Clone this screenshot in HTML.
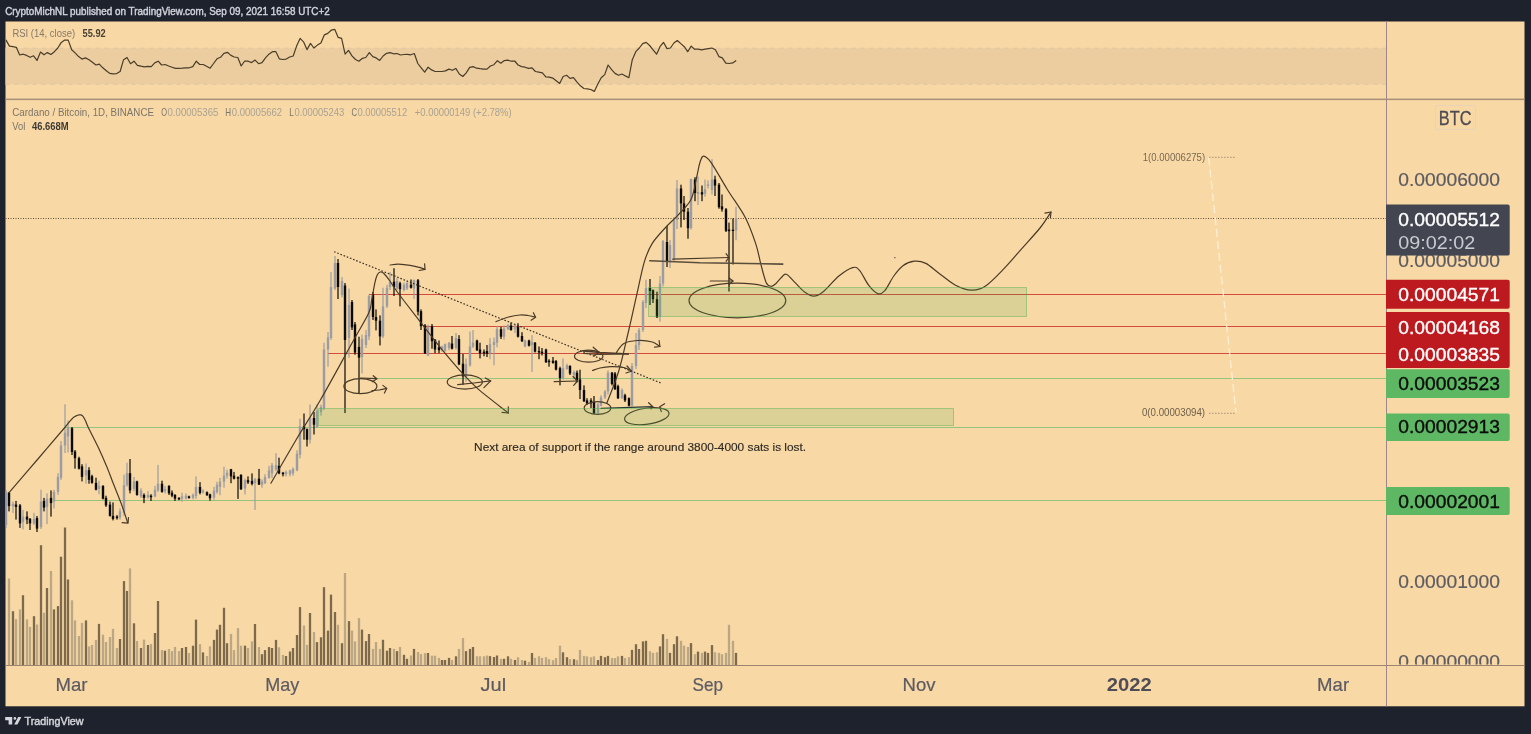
<!DOCTYPE html>
<html><head><meta charset="utf-8"><title>Cardano / Bitcoin chart</title>
<style>html,body{margin:0;padding:0;background:#1e222d;overflow:hidden}svg{display:block}</style>
</head><body><svg width="1531" height="734" viewBox="0 0 1531 734"><rect x="0" y="0" width="1531" height="734" fill="#1e222d"/><rect x="5.5" y="21.5" width="1519" height="684.8" fill="#f8d8a5"/><rect x="5.5" y="48.2" width="1380.5" height="36.1" fill="#ebcd9f"/><line x1="5.5" y1="48.2" x2="1386" y2="48.2" stroke="#dcc6a6" stroke-width="1" stroke-dasharray="4 5"/><line x1="5.5" y1="84.3" x2="1386" y2="84.3" stroke="#dcc6a6" stroke-width="1" stroke-dasharray="4 5"/><defs><clipPath id="mp"><rect x="5.5" y="99.5" width="1380.5" height="565.5"/></clipPath><clipPath id="rp"><rect x="5.5" y="21.5" width="1380.5" height="77.5"/></clipPath></defs><g clip-path="url(#mp)"><line x1="5.5" y1="218.5" x2="1386" y2="218.5" stroke="#5f4f38" stroke-width="1" stroke-dasharray="1 1.5"/><line x1="369" y1="294.5" x2="1386" y2="294.5" stroke="#d24b3c" stroke-width="1"/><line x1="425" y1="326.5" x2="1386" y2="326.5" stroke="#d24b3c" stroke-width="1"/><line x1="328" y1="353.5" x2="1386" y2="353.5" stroke="#d24b3c" stroke-width="1"/><line x1="359" y1="378.5" x2="1386" y2="378.5" stroke="#92c47c" stroke-width="1"/><line x1="64.5" y1="427.5" x2="1386" y2="427.5" stroke="#92c47c" stroke-width="1"/><line x1="54" y1="500.5" x2="1386" y2="500.5" stroke="#92c47c" stroke-width="1"/><rect x="7.85" y="578.5" width="2.3" height="86.5" fill="#bba784"/><rect x="11.85" y="611.2" width="2.3" height="53.8" fill="#7d6a4c"/><rect x="14.85" y="619.2" width="2.3" height="45.8" fill="#bba784"/><rect x="18.85" y="609.4" width="2.3" height="55.6" fill="#bba784"/><rect x="21.85" y="595.2" width="2.3" height="69.8" fill="#7d6a4c"/><rect x="25.85" y="619.4" width="2.3" height="45.6" fill="#bba784"/><rect x="28.85" y="626.9" width="2.3" height="38.1" fill="#bba784"/><rect x="32.85" y="616.2" width="2.3" height="48.8" fill="#7d6a4c"/><rect x="35.85" y="624.5" width="2.3" height="40.5" fill="#bba784"/><rect x="39.85" y="545.2" width="2.3" height="119.8" fill="#7d6a4c"/><rect x="42.85" y="612.8" width="2.3" height="52.2" fill="#bba784"/><rect x="45.85" y="588" width="2.3" height="77" fill="#7d6a4c"/><rect x="49.85" y="571" width="2.3" height="94" fill="#bba784"/><rect x="52.85" y="609.4" width="2.3" height="55.6" fill="#7d6a4c"/><rect x="56.85" y="606.1" width="2.3" height="58.9" fill="#7d6a4c"/><rect x="59.85" y="556.7" width="2.3" height="108.3" fill="#7d6a4c"/><rect x="63.85" y="527.5" width="2.3" height="137.5" fill="#7d6a4c"/><rect x="66.85" y="579.5" width="2.3" height="85.5" fill="#7d6a4c"/><rect x="70.85" y="600.3" width="2.3" height="64.7" fill="#bba784"/><rect x="73.85" y="620.4" width="2.3" height="44.6" fill="#bba784"/><rect x="77.85" y="636" width="2.3" height="29" fill="#bba784"/><rect x="80.85" y="622.9" width="2.3" height="42.1" fill="#bba784"/><rect x="84.85" y="620.4" width="2.3" height="44.6" fill="#7d6a4c"/><rect x="87.85" y="646.5" width="2.3" height="18.5" fill="#bba784"/><rect x="90.85" y="645" width="2.3" height="20" fill="#bba784"/><rect x="94.85" y="640" width="2.3" height="25" fill="#bba784"/><rect x="97.85" y="623.9" width="2.3" height="41.1" fill="#7d6a4c"/><rect x="101.85" y="634.6" width="2.3" height="30.4" fill="#bba784"/><rect x="104.85" y="642" width="2.3" height="23" fill="#bba784"/><rect x="108.85" y="637" width="2.3" height="28" fill="#bba784"/><rect x="111.85" y="628.9" width="2.3" height="36.1" fill="#bba784"/><rect x="115.85" y="648" width="2.3" height="17" fill="#bba784"/><rect x="118.85" y="639" width="2.3" height="26" fill="#7d6a4c"/><rect x="122.85" y="581.1" width="2.3" height="83.9" fill="#7d6a4c"/><rect x="125.85" y="591" width="2.3" height="74" fill="#7d6a4c"/><rect x="128.85" y="568.4" width="2.3" height="96.6" fill="#bba784"/><rect x="132.85" y="623.3" width="2.3" height="41.7" fill="#7d6a4c"/><rect x="135.85" y="641" width="2.3" height="24" fill="#bba784"/><rect x="139.85" y="648" width="2.3" height="17" fill="#7d6a4c"/><rect x="142.85" y="639.6" width="2.3" height="25.4" fill="#bba784"/><rect x="146.85" y="645" width="2.3" height="20" fill="#7d6a4c"/><rect x="149.85" y="644" width="2.3" height="21" fill="#bba784"/><rect x="153.85" y="633" width="2.3" height="32" fill="#7d6a4c"/><rect x="156.85" y="601" width="2.3" height="64" fill="#7d6a4c"/><rect x="160.85" y="650" width="2.3" height="15" fill="#bba784"/><rect x="163.85" y="650.7" width="2.3" height="14.3" fill="#7d6a4c"/><rect x="167.85" y="649" width="2.3" height="16" fill="#bba784"/><rect x="170.85" y="651.1" width="2.3" height="13.9" fill="#bba784"/><rect x="173.85" y="647" width="2.3" height="18" fill="#bba784"/><rect x="177.85" y="651.1" width="2.3" height="13.9" fill="#bba784"/><rect x="180.85" y="648" width="2.3" height="17" fill="#7d6a4c"/><rect x="184.85" y="647" width="2.3" height="18" fill="#7d6a4c"/><rect x="187.85" y="653" width="2.3" height="12" fill="#bba784"/><rect x="191.85" y="645.7" width="2.3" height="19.3" fill="#7d6a4c"/><rect x="194.85" y="619.6" width="2.3" height="45.4" fill="#7d6a4c"/><rect x="198.85" y="644.2" width="2.3" height="20.8" fill="#bba784"/><rect x="201.85" y="652.4" width="2.3" height="12.6" fill="#7d6a4c"/><rect x="205.85" y="656" width="2.3" height="9" fill="#bba784"/><rect x="208.85" y="646.4" width="2.3" height="18.6" fill="#bba784"/><rect x="212.85" y="639.9" width="2.3" height="25.1" fill="#7d6a4c"/><rect x="215.85" y="629.6" width="2.3" height="35.4" fill="#7d6a4c"/><rect x="218.85" y="624.8" width="2.3" height="40.2" fill="#7d6a4c"/><rect x="222.85" y="607.8" width="2.3" height="57.2" fill="#7d6a4c"/><rect x="225.85" y="643.2" width="2.3" height="21.8" fill="#7d6a4c"/><rect x="229.85" y="633.9" width="2.3" height="31.1" fill="#bba784"/><rect x="232.85" y="650.1" width="2.3" height="14.9" fill="#bba784"/><rect x="236.85" y="628.1" width="2.3" height="36.9" fill="#bba784"/><rect x="239.85" y="645.7" width="2.3" height="19.3" fill="#bba784"/><rect x="243.85" y="645.7" width="2.3" height="19.3" fill="#7d6a4c"/><rect x="246.85" y="648" width="2.3" height="17" fill="#bba784"/><rect x="250.85" y="641.4" width="2.3" height="23.6" fill="#bba784"/><rect x="253.85" y="624" width="2.3" height="41" fill="#7d6a4c"/><rect x="257.85" y="647.1" width="2.3" height="17.9" fill="#bba784"/><rect x="260.85" y="654.2" width="2.3" height="10.8" fill="#7d6a4c"/><rect x="263.85" y="650.1" width="2.3" height="14.9" fill="#7d6a4c"/><rect x="267.85" y="647.1" width="2.3" height="17.9" fill="#7d6a4c"/><rect x="270.85" y="648" width="2.3" height="17" fill="#7d6a4c"/><rect x="274.85" y="639.9" width="2.3" height="25.1" fill="#7d6a4c"/><rect x="277.85" y="647.3" width="2.3" height="17.7" fill="#bba784"/><rect x="281.85" y="654.9" width="2.3" height="10.1" fill="#bba784"/><rect x="284.85" y="656" width="2.3" height="9" fill="#7d6a4c"/><rect x="288.85" y="651.5" width="2.3" height="13.5" fill="#7d6a4c"/><rect x="291.85" y="648" width="2.3" height="17" fill="#7d6a4c"/><rect x="295.85" y="635" width="2.3" height="30" fill="#7d6a4c"/><rect x="298.85" y="607.1" width="2.3" height="57.9" fill="#7d6a4c"/><rect x="302.85" y="625.5" width="2.3" height="39.5" fill="#bba784"/><rect x="305.85" y="644.9" width="2.3" height="20.1" fill="#bba784"/><rect x="308.85" y="613" width="2.3" height="52" fill="#7d6a4c"/><rect x="312.85" y="632.1" width="2.3" height="32.9" fill="#bba784"/><rect x="315.85" y="642.1" width="2.3" height="22.9" fill="#7d6a4c"/><rect x="319.85" y="637.3" width="2.3" height="27.7" fill="#7d6a4c"/><rect x="322.85" y="587.2" width="2.3" height="77.8" fill="#7d6a4c"/><rect x="326.85" y="630.6" width="2.3" height="34.4" fill="#7d6a4c"/><rect x="329.85" y="594.6" width="2.3" height="70.4" fill="#7d6a4c"/><rect x="333.85" y="612" width="2.3" height="53" fill="#7d6a4c"/><rect x="336.85" y="624.8" width="2.3" height="40.2" fill="#bba784"/><rect x="340.85" y="643.2" width="2.3" height="21.8" fill="#7d6a4c"/><rect x="343.85" y="573" width="2.3" height="92" fill="#bba784"/><rect x="347.85" y="621.1" width="2.3" height="43.9" fill="#7d6a4c"/><rect x="350.85" y="630.6" width="2.3" height="34.4" fill="#bba784"/><rect x="353.85" y="641.4" width="2.3" height="23.6" fill="#bba784"/><rect x="357.85" y="618.1" width="2.3" height="46.9" fill="#bba784"/><rect x="360.85" y="629.6" width="2.3" height="35.4" fill="#7d6a4c"/><rect x="364.85" y="641.1" width="2.3" height="23.9" fill="#7d6a4c"/><rect x="367.85" y="634" width="2.3" height="31" fill="#7d6a4c"/><rect x="371.85" y="648.9" width="2.3" height="16.1" fill="#bba784"/><rect x="374.85" y="642" width="2.3" height="23" fill="#bba784"/><rect x="378.85" y="648.9" width="2.3" height="16.1" fill="#bba784"/><rect x="381.85" y="639.8" width="2.3" height="25.2" fill="#7d6a4c"/><rect x="385.85" y="650.7" width="2.3" height="14.3" fill="#7d6a4c"/><rect x="388.85" y="648" width="2.3" height="17" fill="#7d6a4c"/><rect x="392.85" y="648.9" width="2.3" height="16.1" fill="#bba784"/><rect x="395.85" y="651.1" width="2.3" height="13.9" fill="#7d6a4c"/><rect x="398.85" y="647" width="2.3" height="18" fill="#bba784"/><rect x="402.85" y="654.8" width="2.3" height="10.2" fill="#7d6a4c"/><rect x="405.85" y="658.8" width="2.3" height="6.2" fill="#7d6a4c"/><rect x="409.85" y="655.5" width="2.3" height="9.5" fill="#bba784"/><rect x="412.85" y="648.9" width="2.3" height="16.1" fill="#7d6a4c"/><rect x="416.85" y="652" width="2.3" height="13" fill="#bba784"/><rect x="419.85" y="654.1" width="2.3" height="10.9" fill="#bba784"/><rect x="423.85" y="653.2" width="2.3" height="11.8" fill="#bba784"/><rect x="426.85" y="653" width="2.3" height="12" fill="#7d6a4c"/><rect x="430.85" y="655.7" width="2.3" height="9.3" fill="#bba784"/><rect x="433.85" y="655.7" width="2.3" height="9.3" fill="#bba784"/><rect x="437.85" y="657.9" width="2.3" height="7.1" fill="#bba784"/><rect x="440.85" y="660" width="2.3" height="5" fill="#7d6a4c"/><rect x="443.85" y="660" width="2.3" height="5" fill="#7d6a4c"/><rect x="447.85" y="657.9" width="2.3" height="7.1" fill="#7d6a4c"/><rect x="450.85" y="660" width="2.3" height="5" fill="#bba784"/><rect x="454.85" y="656.3" width="2.3" height="8.7" fill="#7d6a4c"/><rect x="457.85" y="648.9" width="2.3" height="16.1" fill="#bba784"/><rect x="461.85" y="638.1" width="2.3" height="26.9" fill="#bba784"/><rect x="464.85" y="651.1" width="2.3" height="13.9" fill="#7d6a4c"/><rect x="468.85" y="648.9" width="2.3" height="16.1" fill="#7d6a4c"/><rect x="471.85" y="647" width="2.3" height="18" fill="#7d6a4c"/><rect x="475.85" y="656.3" width="2.3" height="8.7" fill="#bba784"/><rect x="478.85" y="656.3" width="2.3" height="8.7" fill="#bba784"/><rect x="482.85" y="656.3" width="2.3" height="8.7" fill="#bba784"/><rect x="485.85" y="655.5" width="2.3" height="9.5" fill="#bba784"/><rect x="488.85" y="656.1" width="2.3" height="8.9" fill="#7d6a4c"/><rect x="492.85" y="657" width="2.3" height="8" fill="#7d6a4c"/><rect x="495.85" y="655.5" width="2.3" height="9.5" fill="#7d6a4c"/><rect x="499.85" y="658.8" width="2.3" height="6.2" fill="#bba784"/><rect x="502.85" y="658.8" width="2.3" height="6.2" fill="#7d6a4c"/><rect x="506.85" y="656.3" width="2.3" height="8.7" fill="#7d6a4c"/><rect x="509.85" y="658.8" width="2.3" height="6.2" fill="#bba784"/><rect x="513.85" y="660" width="2.3" height="5" fill="#7d6a4c"/><rect x="516.85" y="657.2" width="2.3" height="7.8" fill="#bba784"/><rect x="520.85" y="660" width="2.3" height="5" fill="#bba784"/><rect x="523.85" y="660.7" width="2.3" height="4.3" fill="#7d6a4c"/><rect x="527.85" y="661.9" width="2.3" height="3.1" fill="#bba784"/><rect x="530.85" y="653" width="2.3" height="12" fill="#7d6a4c"/><rect x="533.85" y="657.9" width="2.3" height="7.1" fill="#bba784"/><rect x="537.85" y="656.3" width="2.3" height="8.7" fill="#bba784"/><rect x="540.85" y="657.9" width="2.3" height="7.1" fill="#bba784"/><rect x="544.85" y="657.2" width="2.3" height="7.8" fill="#bba784"/><rect x="547.85" y="659.2" width="2.3" height="5.8" fill="#bba784"/><rect x="551.85" y="660.1" width="2.3" height="4.9" fill="#bba784"/><rect x="554.85" y="658.1" width="2.3" height="6.9" fill="#bba784"/><rect x="558.85" y="645.7" width="2.3" height="19.3" fill="#bba784"/><rect x="561.85" y="652.3" width="2.3" height="12.7" fill="#7d6a4c"/><rect x="565.85" y="657.2" width="2.3" height="7.8" fill="#7d6a4c"/><rect x="568.85" y="659.2" width="2.3" height="5.8" fill="#bba784"/><rect x="572.85" y="659.2" width="2.3" height="5.8" fill="#7d6a4c"/><rect x="575.85" y="660.1" width="2.3" height="4.9" fill="#bba784"/><rect x="578.85" y="649.9" width="2.3" height="15.1" fill="#bba784"/><rect x="582.85" y="655.9" width="2.3" height="9.1" fill="#bba784"/><rect x="585.85" y="656.4" width="2.3" height="8.6" fill="#bba784"/><rect x="589.85" y="657.2" width="2.3" height="7.8" fill="#bba784"/><rect x="592.85" y="656.4" width="2.3" height="8.6" fill="#bba784"/><rect x="596.85" y="660.1" width="2.3" height="4.9" fill="#7d6a4c"/><rect x="599.85" y="655.9" width="2.3" height="9.1" fill="#7d6a4c"/><rect x="603.85" y="657.2" width="2.3" height="7.8" fill="#7d6a4c"/><rect x="606.85" y="655.9" width="2.3" height="9.1" fill="#7d6a4c"/><rect x="610.85" y="658.1" width="2.3" height="6.9" fill="#bba784"/><rect x="613.85" y="658.1" width="2.3" height="6.9" fill="#bba784"/><rect x="616.85" y="656.4" width="2.3" height="8.6" fill="#bba784"/><rect x="620.85" y="655.9" width="2.3" height="9.1" fill="#7d6a4c"/><rect x="623.85" y="658.1" width="2.3" height="6.9" fill="#bba784"/><rect x="627.85" y="657.2" width="2.3" height="7.8" fill="#bba784"/><rect x="630.85" y="649.9" width="2.3" height="15.1" fill="#7d6a4c"/><rect x="634.85" y="644.2" width="2.3" height="20.8" fill="#7d6a4c"/><rect x="637.85" y="649" width="2.3" height="16" fill="#7d6a4c"/><rect x="641.85" y="641.4" width="2.3" height="23.6" fill="#7d6a4c"/><rect x="644.85" y="640.8" width="2.3" height="24.2" fill="#7d6a4c"/><rect x="648.85" y="651.3" width="2.3" height="13.7" fill="#bba784"/><rect x="651.85" y="652.9" width="2.3" height="12.1" fill="#bba784"/><rect x="655.85" y="652.3" width="2.3" height="12.7" fill="#bba784"/><rect x="658.85" y="646.4" width="2.3" height="18.6" fill="#7d6a4c"/><rect x="661.85" y="634.2" width="2.3" height="30.8" fill="#7d6a4c"/><rect x="665.85" y="638.9" width="2.3" height="26.1" fill="#bba784"/><rect x="668.85" y="652.9" width="2.3" height="12.1" fill="#7d6a4c"/><rect x="672.85" y="644.2" width="2.3" height="20.8" fill="#7d6a4c"/><rect x="675.85" y="636.3" width="2.3" height="28.7" fill="#7d6a4c"/><rect x="679.85" y="640.8" width="2.3" height="24.2" fill="#bba784"/><rect x="682.85" y="645.7" width="2.3" height="19.3" fill="#bba784"/><rect x="686.85" y="647" width="2.3" height="18" fill="#bba784"/><rect x="689.85" y="643.1" width="2.3" height="21.9" fill="#7d6a4c"/><rect x="693.85" y="654.2" width="2.3" height="10.8" fill="#bba784"/><rect x="696.85" y="651.6" width="2.3" height="13.4" fill="#7d6a4c"/><rect x="700.85" y="652.9" width="2.3" height="12.1" fill="#bba784"/><rect x="703.85" y="651.6" width="2.3" height="13.4" fill="#7d6a4c"/><rect x="706.85" y="652.9" width="2.3" height="12.1" fill="#7d6a4c"/><rect x="710.85" y="645.1" width="2.3" height="19.9" fill="#7d6a4c"/><rect x="713.85" y="652.3" width="2.3" height="12.7" fill="#bba784"/><rect x="717.85" y="652.9" width="2.3" height="12.1" fill="#bba784"/><rect x="720.85" y="654.2" width="2.3" height="10.8" fill="#bba784"/><rect x="724.85" y="652.9" width="2.3" height="12.1" fill="#bba784"/><rect x="727.85" y="624.8" width="2.3" height="40.2" fill="#bba784"/><rect x="731.85" y="640.8" width="2.3" height="24.2" fill="#bba784"/><rect x="734.85" y="652.9" width="2.3" height="12.1" fill="#7d6a4c"/><rect x="5.4" y="490" width="1.2" height="38" fill="#9c9ca3"/><rect x="4.8" y="492" width="2.4" height="33" fill="#9c9ca3"/><rect x="8.4" y="491.9" width="1.2" height="19.5" fill="#0a0a0a"/><rect x="7.8" y="492.7" width="2.4" height="13.4" fill="#0a0a0a"/><rect x="12.4" y="501.6" width="1.2" height="11.3" fill="#9c9ca3"/><rect x="11.8" y="503.9" width="2.4" height="2.2" fill="#9c9ca3"/><rect x="15.4" y="500.9" width="1.2" height="18.7" fill="#0a0a0a"/><rect x="14.8" y="504.6" width="2.4" height="2.3" fill="#0a0a0a"/><rect x="19.4" y="504" width="1.2" height="23.9" fill="#0a0a0a"/><rect x="18.8" y="505.4" width="2.4" height="18" fill="#0a0a0a"/><rect x="22.4" y="509.9" width="1.2" height="19.5" fill="#9c9ca3"/><rect x="21.8" y="516.6" width="2.4" height="5.3" fill="#9c9ca3"/><rect x="26.4" y="511.4" width="1.2" height="12.7" fill="#0a0a0a"/><rect x="25.8" y="516.6" width="2.4" height="3" fill="#0a0a0a"/><rect x="29.4" y="518" width="1.2" height="12" fill="#0a0a0a"/><rect x="28.8" y="518.9" width="2.4" height="4.5" fill="#0a0a0a"/><rect x="33.4" y="512.9" width="1.2" height="12" fill="#9c9ca3"/><rect x="32.8" y="518.9" width="2.4" height="4.5" fill="#9c9ca3"/><rect x="36.4" y="516" width="1.2" height="16" fill="#0a0a0a"/><rect x="35.8" y="518.1" width="2.4" height="10.5" fill="#0a0a0a"/><rect x="40.4" y="489.7" width="1.2" height="39.3" fill="#9c9ca3"/><rect x="39.8" y="501.6" width="2.4" height="25.5" fill="#9c9ca3"/><rect x="43.4" y="497.9" width="1.2" height="13.5" fill="#0a0a0a"/><rect x="42.8" y="500.9" width="2.4" height="6.7" fill="#0a0a0a"/><rect x="46.4" y="493.4" width="1.2" height="30.7" fill="#9c9ca3"/><rect x="45.8" y="498.7" width="2.4" height="8.2" fill="#9c9ca3"/><rect x="50.4" y="490.4" width="1.2" height="26.2" fill="#0a0a0a"/><rect x="49.8" y="497.9" width="2.4" height="5.2" fill="#0a0a0a"/><rect x="53.4" y="489.7" width="1.2" height="18.7" fill="#9c9ca3"/><rect x="52.8" y="491.9" width="2.4" height="9.7" fill="#9c9ca3"/><rect x="57.4" y="473.2" width="1.2" height="21.7" fill="#9c9ca3"/><rect x="56.8" y="476.9" width="2.4" height="15" fill="#9c9ca3"/><rect x="60.4" y="441" width="1.2" height="39" fill="#9c9ca3"/><rect x="59.8" y="445.5" width="2.4" height="32.2" fill="#9c9ca3"/><rect x="64.4" y="404.3" width="1.2" height="48.7" fill="#9c9ca3"/><rect x="63.8" y="432.7" width="2.4" height="12.8" fill="#9c9ca3"/><rect x="67.4" y="420.5" width="1.2" height="32" fill="#9c9ca3"/><rect x="66.8" y="427.5" width="2.4" height="9" fill="#9c9ca3"/><rect x="71.4" y="427" width="1.2" height="28" fill="#0a0a0a"/><rect x="70.8" y="428.2" width="2.4" height="23.8" fill="#0a0a0a"/><rect x="74.4" y="450" width="1.2" height="18.7" fill="#0a0a0a"/><rect x="73.8" y="451.5" width="2.4" height="6.7" fill="#0a0a0a"/><rect x="78.4" y="456.7" width="1.2" height="12.8" fill="#0a0a0a"/><rect x="77.8" y="458.2" width="2.4" height="10.5" fill="#0a0a0a"/><rect x="81.4" y="464.2" width="1.2" height="17.2" fill="#0a0a0a"/><rect x="80.8" y="466.4" width="2.4" height="10.5" fill="#0a0a0a"/><rect x="85.4" y="463.4" width="1.2" height="20.3" fill="#9c9ca3"/><rect x="84.8" y="470.2" width="2.4" height="5.2" fill="#9c9ca3"/><rect x="88.4" y="467.2" width="1.2" height="16.5" fill="#0a0a0a"/><rect x="87.8" y="470.2" width="2.4" height="9.7" fill="#0a0a0a"/><rect x="91.4" y="474.7" width="1.2" height="9" fill="#0a0a0a"/><rect x="90.8" y="476.2" width="2.4" height="6.7" fill="#0a0a0a"/><rect x="95.4" y="477.7" width="1.2" height="12.7" fill="#0a0a0a"/><rect x="94.8" y="482.9" width="2.4" height="6.8" fill="#0a0a0a"/><rect x="98.4" y="480.7" width="1.2" height="13.5" fill="#9c9ca3"/><rect x="97.8" y="485.9" width="2.4" height="3" fill="#9c9ca3"/><rect x="102.4" y="485.2" width="1.2" height="14.2" fill="#0a0a0a"/><rect x="101.8" y="485.9" width="2.4" height="12.8" fill="#0a0a0a"/><rect x="105.4" y="495.7" width="1.2" height="11.2" fill="#0a0a0a"/><rect x="104.8" y="497.9" width="2.4" height="7.5" fill="#0a0a0a"/><rect x="109.4" y="501.6" width="1.2" height="15" fill="#0a0a0a"/><rect x="108.8" y="504.6" width="2.4" height="11.3" fill="#0a0a0a"/><rect x="112.4" y="502.4" width="1.2" height="18" fill="#0a0a0a"/><rect x="111.8" y="515.9" width="2.4" height="3" fill="#0a0a0a"/><rect x="116.4" y="515.1" width="1.2" height="4.5" fill="#0a0a0a"/><rect x="115.8" y="516.6" width="2.4" height="1.5" fill="#0a0a0a"/><rect x="119.4" y="508.4" width="1.2" height="11.2" fill="#9c9ca3"/><rect x="118.8" y="511.4" width="2.4" height="6" fill="#9c9ca3"/><rect x="123.4" y="474.7" width="1.2" height="41.2" fill="#9c9ca3"/><rect x="122.8" y="485.2" width="2.4" height="27.7" fill="#9c9ca3"/><rect x="126.4" y="462.7" width="1.2" height="24" fill="#9c9ca3"/><rect x="125.8" y="473.2" width="2.4" height="12" fill="#9c9ca3"/><rect x="129.4" y="459" width="1.2" height="34.4" fill="#0a0a0a"/><rect x="128.8" y="473.2" width="2.4" height="17.2" fill="#0a0a0a"/><rect x="133.4" y="476.9" width="1.2" height="14.3" fill="#9c9ca3"/><rect x="132.8" y="481.4" width="2.4" height="7.5" fill="#9c9ca3"/><rect x="136.4" y="480.7" width="1.2" height="15" fill="#0a0a0a"/><rect x="135.8" y="481.4" width="2.4" height="13.5" fill="#0a0a0a"/><rect x="140.4" y="488.2" width="1.2" height="9.7" fill="#9c9ca3"/><rect x="139.8" y="490.4" width="2.4" height="6" fill="#9c9ca3"/><rect x="143.4" y="493.4" width="1.2" height="9.7" fill="#0a0a0a"/><rect x="142.8" y="494.9" width="2.4" height="3" fill="#0a0a0a"/><rect x="147.4" y="491.2" width="1.2" height="7.5" fill="#9c9ca3"/><rect x="146.8" y="494.9" width="2.4" height="2.3" fill="#9c9ca3"/><rect x="150.4" y="494.2" width="1.2" height="6.7" fill="#0a0a0a"/><rect x="149.8" y="495.7" width="2.4" height="1.5" fill="#0a0a0a"/><rect x="154.4" y="485.9" width="1.2" height="11.3" fill="#9c9ca3"/><rect x="153.8" y="489.7" width="2.4" height="6.7" fill="#9c9ca3"/><rect x="157.4" y="464.9" width="1.2" height="27" fill="#9c9ca3"/><rect x="156.8" y="483.7" width="2.4" height="6.7" fill="#9c9ca3"/><rect x="161.4" y="480.7" width="1.2" height="12" fill="#0a0a0a"/><rect x="160.8" y="483.7" width="2.4" height="8.2" fill="#0a0a0a"/><rect x="164.4" y="485.9" width="1.2" height="7.5" fill="#9c9ca3"/><rect x="163.8" y="489" width="2.4" height="2.2" fill="#9c9ca3"/><rect x="168.4" y="485.2" width="1.2" height="9.7" fill="#0a0a0a"/><rect x="167.8" y="485.9" width="2.4" height="7.5" fill="#0a0a0a"/><rect x="171.4" y="490.4" width="1.2" height="6.8" fill="#0a0a0a"/><rect x="170.8" y="492.7" width="2.4" height="3" fill="#0a0a0a"/><rect x="174.4" y="494.2" width="1.2" height="6.7" fill="#0a0a0a"/><rect x="173.8" y="494.9" width="2.4" height="3.8" fill="#0a0a0a"/><rect x="178.4" y="497.2" width="1.2" height="3" fill="#0a0a0a"/><rect x="177.8" y="497.9" width="2.4" height="1.5" fill="#0a0a0a"/><rect x="181.4" y="492.7" width="1.2" height="8.9" fill="#9c9ca3"/><rect x="180.8" y="496.4" width="2.4" height="2.3" fill="#9c9ca3"/><rect x="185.4" y="493.4" width="1.2" height="6" fill="#9c9ca3"/><rect x="184.8" y="495.7" width="2.4" height="3" fill="#9c9ca3"/><rect x="188.4" y="495.7" width="1.2" height="3" fill="#0a0a0a"/><rect x="187.8" y="496.4" width="2.4" height="1.5" fill="#0a0a0a"/><rect x="192.4" y="493.4" width="1.2" height="6" fill="#9c9ca3"/><rect x="191.8" y="494.9" width="2.4" height="3" fill="#9c9ca3"/><rect x="195.4" y="476.4" width="1.2" height="22.5" fill="#9c9ca3"/><rect x="194.8" y="486.9" width="2.4" height="9" fill="#9c9ca3"/><rect x="199.4" y="482.1" width="1.2" height="12.3" fill="#0a0a0a"/><rect x="198.8" y="486.9" width="2.4" height="6" fill="#0a0a0a"/><rect x="202.4" y="489.2" width="1.2" height="4.5" fill="#9c9ca3"/><rect x="201.8" y="490.7" width="2.4" height="1.5" fill="#9c9ca3"/><rect x="206.4" y="491.4" width="1.2" height="4.5" fill="#0a0a0a"/><rect x="205.8" y="492.2" width="2.4" height="3" fill="#0a0a0a"/><rect x="209.4" y="493.7" width="1.2" height="7" fill="#0a0a0a"/><rect x="208.8" y="494.4" width="2.4" height="3.8" fill="#0a0a0a"/><rect x="213.4" y="486.9" width="1.2" height="12.8" fill="#9c9ca3"/><rect x="212.8" y="490.7" width="2.4" height="6.7" fill="#9c9ca3"/><rect x="216.4" y="481.7" width="1.2" height="12" fill="#9c9ca3"/><rect x="215.8" y="484.7" width="2.4" height="7.5" fill="#9c9ca3"/><rect x="219.4" y="477.9" width="1.2" height="17.3" fill="#9c9ca3"/><rect x="218.8" y="481.7" width="2.4" height="5.2" fill="#9c9ca3"/><rect x="223.4" y="466.7" width="1.2" height="21" fill="#9c9ca3"/><rect x="222.8" y="475.7" width="2.4" height="6" fill="#9c9ca3"/><rect x="226.4" y="469.7" width="1.2" height="9" fill="#9c9ca3"/><rect x="225.8" y="472.7" width="2.4" height="3" fill="#9c9ca3"/><rect x="230.4" y="468.9" width="1.2" height="14.3" fill="#0a0a0a"/><rect x="229.8" y="469.2" width="2.4" height="7.2" fill="#0a0a0a"/><rect x="233.4" y="471.9" width="1.2" height="7.5" fill="#0a0a0a"/><rect x="232.8" y="475.7" width="2.4" height="3" fill="#0a0a0a"/><rect x="237.4" y="476.4" width="1.2" height="22.5" fill="#0a0a0a"/><rect x="236.8" y="477.2" width="2.4" height="1.5" fill="#0a0a0a"/><rect x="240.4" y="474.2" width="1.2" height="15.8" fill="#0a0a0a"/><rect x="239.8" y="474.9" width="2.4" height="14.3" fill="#0a0a0a"/><rect x="244.4" y="478.7" width="1.2" height="15.7" fill="#9c9ca3"/><rect x="243.8" y="480.2" width="2.4" height="8.2" fill="#9c9ca3"/><rect x="247.4" y="476.4" width="1.2" height="7.5" fill="#0a0a0a"/><rect x="246.8" y="480.2" width="2.4" height="2.2" fill="#0a0a0a"/><rect x="251.4" y="473.4" width="1.2" height="12" fill="#0a0a0a"/><rect x="250.8" y="480.9" width="2.4" height="3" fill="#0a0a0a"/><rect x="254.4" y="478" width="1.2" height="32" fill="#9c9ca3"/><rect x="253.8" y="479.4" width="2.4" height="3.8" fill="#9c9ca3"/><rect x="258.4" y="468.9" width="1.2" height="15.8" fill="#0a0a0a"/><rect x="257.8" y="478.7" width="2.4" height="6" fill="#0a0a0a"/><rect x="261.4" y="479.4" width="1.2" height="8.3" fill="#9c9ca3"/><rect x="260.8" y="481.7" width="2.4" height="3" fill="#9c9ca3"/><rect x="264.4" y="474.2" width="1.2" height="9.8" fill="#9c9ca3"/><rect x="263.8" y="477.2" width="2.4" height="6" fill="#9c9ca3"/><rect x="268.4" y="465.9" width="1.2" height="12.8" fill="#9c9ca3"/><rect x="267.8" y="470.4" width="2.4" height="7.5" fill="#9c9ca3"/><rect x="271.4" y="462.9" width="1.2" height="15" fill="#9c9ca3"/><rect x="270.8" y="465.2" width="2.4" height="8.2" fill="#9c9ca3"/><rect x="275.4" y="453.2" width="1.2" height="18" fill="#9c9ca3"/><rect x="274.8" y="465.2" width="2.4" height="4.5" fill="#9c9ca3"/><rect x="278.4" y="457.7" width="1.2" height="16.5" fill="#0a0a0a"/><rect x="277.8" y="465.9" width="2.4" height="7.5" fill="#0a0a0a"/><rect x="282.4" y="471.9" width="1.2" height="4.5" fill="#0a0a0a"/><rect x="281.8" y="472.7" width="2.4" height="1.5" fill="#0a0a0a"/><rect x="285.4" y="470.4" width="1.2" height="6" fill="#9c9ca3"/><rect x="284.8" y="471.9" width="2.4" height="2.3" fill="#9c9ca3"/><rect x="289.4" y="469.7" width="1.2" height="6.7" fill="#9c9ca3"/><rect x="288.8" y="470.4" width="2.4" height="3.8" fill="#9c9ca3"/><rect x="292.4" y="467.4" width="1.2" height="8.3" fill="#9c9ca3"/><rect x="291.8" y="468.9" width="2.4" height="4.5" fill="#9c9ca3"/><rect x="296.4" y="450.2" width="1.2" height="21" fill="#9c9ca3"/><rect x="295.8" y="453.9" width="2.4" height="16.5" fill="#9c9ca3"/><rect x="299.4" y="418.7" width="1.2" height="39.7" fill="#9c9ca3"/><rect x="298.8" y="426.2" width="2.4" height="28.5" fill="#9c9ca3"/><rect x="303.4" y="413.5" width="1.2" height="26.2" fill="#0a0a0a"/><rect x="302.8" y="426.2" width="2.4" height="3" fill="#0a0a0a"/><rect x="306.4" y="428.5" width="1.2" height="18" fill="#0a0a0a"/><rect x="305.8" y="429.2" width="2.4" height="10.5" fill="#0a0a0a"/><rect x="309.4" y="404.5" width="1.2" height="39" fill="#9c9ca3"/><rect x="308.8" y="418" width="2.4" height="21.7" fill="#9c9ca3"/><rect x="313.4" y="412" width="1.2" height="22.5" fill="#0a0a0a"/><rect x="312.8" y="418" width="2.4" height="6.7" fill="#0a0a0a"/><rect x="316.4" y="404.5" width="1.2" height="23.5" fill="#9c9ca3"/><rect x="315.8" y="410.5" width="2.4" height="16.5" fill="#9c9ca3"/><rect x="320.4" y="404.5" width="1.2" height="11.2" fill="#9c9ca3"/><rect x="319.8" y="406.7" width="2.4" height="5.3" fill="#9c9ca3"/><rect x="323.4" y="342.7" width="1.2" height="67.3" fill="#9c9ca3"/><rect x="322.8" y="349.5" width="2.4" height="58.5" fill="#9c9ca3"/><rect x="327.4" y="332" width="1.2" height="34.7" fill="#9c9ca3"/><rect x="326.8" y="337.5" width="2.4" height="12" fill="#9c9ca3"/><rect x="330.4" y="272" width="1.2" height="68" fill="#9c9ca3"/><rect x="329.8" y="287" width="2.4" height="51" fill="#9c9ca3"/><rect x="334.4" y="256" width="1.2" height="34" fill="#9c9ca3"/><rect x="333.8" y="263" width="2.4" height="25.5" fill="#9c9ca3"/><rect x="337.4" y="259" width="1.2" height="40" fill="#0a0a0a"/><rect x="336.8" y="263" width="2.4" height="24" fill="#0a0a0a"/><rect x="341.4" y="277" width="1.2" height="20.5" fill="#9c9ca3"/><rect x="340.8" y="281" width="2.4" height="14" fill="#9c9ca3"/><rect x="344.4" y="283" width="1.2" height="130" fill="#0a0a0a"/><rect x="343.8" y="285.5" width="2.4" height="54.5" fill="#0a0a0a"/><rect x="348.4" y="288.5" width="1.2" height="69.2" fill="#9c9ca3"/><rect x="347.8" y="305" width="2.4" height="33" fill="#9c9ca3"/><rect x="351.4" y="300" width="1.2" height="30" fill="#0a0a0a"/><rect x="350.8" y="302" width="2.4" height="25.4" fill="#0a0a0a"/><rect x="354.4" y="322" width="1.2" height="32.7" fill="#0a0a0a"/><rect x="353.8" y="324.4" width="2.4" height="28.1" fill="#0a0a0a"/><rect x="358.4" y="336.7" width="1.2" height="56.3" fill="#0a0a0a"/><rect x="357.8" y="346.9" width="2.4" height="10.8" fill="#0a0a0a"/><rect x="361.4" y="334.5" width="1.2" height="39" fill="#9c9ca3"/><rect x="360.8" y="339" width="2.4" height="18" fill="#9c9ca3"/><rect x="365.4" y="330" width="1.2" height="18" fill="#9c9ca3"/><rect x="364.8" y="335" width="2.4" height="10" fill="#9c9ca3"/><rect x="368.4" y="294.5" width="1.2" height="45.5" fill="#9c9ca3"/><rect x="367.8" y="296" width="2.4" height="40.4" fill="#9c9ca3"/><rect x="372.4" y="292" width="1.2" height="28" fill="#0a0a0a"/><rect x="371.8" y="294.5" width="2.4" height="22.5" fill="#0a0a0a"/><rect x="375.4" y="309.4" width="1.2" height="21" fill="#0a0a0a"/><rect x="374.8" y="317" width="2.4" height="3.7" fill="#0a0a0a"/><rect x="379.4" y="315.4" width="1.2" height="30" fill="#0a0a0a"/><rect x="378.8" y="320.7" width="2.4" height="15.7" fill="#0a0a0a"/><rect x="382.4" y="287.7" width="1.2" height="50.3" fill="#9c9ca3"/><rect x="381.8" y="306.4" width="2.4" height="30" fill="#9c9ca3"/><rect x="386.4" y="284.7" width="1.2" height="23.3" fill="#9c9ca3"/><rect x="385.8" y="287.7" width="2.4" height="18.7" fill="#9c9ca3"/><rect x="389.4" y="272" width="1.2" height="18" fill="#9c9ca3"/><rect x="388.8" y="281.7" width="2.4" height="5.3" fill="#9c9ca3"/><rect x="393.4" y="268.2" width="1.2" height="27.8" fill="#0a0a0a"/><rect x="392.8" y="281.7" width="2.4" height="5.3" fill="#0a0a0a"/><rect x="396.4" y="278" width="1.2" height="12" fill="#9c9ca3"/><rect x="395.8" y="281" width="2.4" height="7.5" fill="#9c9ca3"/><rect x="399.4" y="281.7" width="1.2" height="24.7" fill="#0a0a0a"/><rect x="398.8" y="283.2" width="2.4" height="6" fill="#0a0a0a"/><rect x="403.4" y="282.5" width="1.2" height="9" fill="#9c9ca3"/><rect x="402.8" y="284.7" width="2.4" height="5.3" fill="#9c9ca3"/><rect x="406.4" y="281.7" width="1.2" height="8.3" fill="#9c9ca3"/><rect x="405.8" y="283.2" width="2.4" height="5.3" fill="#9c9ca3"/><rect x="410.4" y="279.5" width="1.2" height="9" fill="#0a0a0a"/><rect x="409.8" y="284.7" width="2.4" height="3" fill="#0a0a0a"/><rect x="413.4" y="279.5" width="1.2" height="19.5" fill="#9c9ca3"/><rect x="412.8" y="280.2" width="2.4" height="8.3" fill="#9c9ca3"/><rect x="417.4" y="279" width="1.2" height="36.4" fill="#0a0a0a"/><rect x="416.8" y="280.2" width="2.4" height="31.5" fill="#0a0a0a"/><rect x="420.4" y="309.4" width="1.2" height="20.6" fill="#0a0a0a"/><rect x="419.8" y="311.2" width="2.4" height="15" fill="#0a0a0a"/><rect x="424.4" y="324" width="1.2" height="30" fill="#0a0a0a"/><rect x="423.8" y="325.5" width="2.4" height="27.7" fill="#0a0a0a"/><rect x="427.4" y="324.7" width="1.2" height="31.5" fill="#9c9ca3"/><rect x="426.8" y="327" width="2.4" height="28.4" fill="#9c9ca3"/><rect x="431.4" y="324" width="1.2" height="24.7" fill="#0a0a0a"/><rect x="430.8" y="326.2" width="2.4" height="15" fill="#0a0a0a"/><rect x="434.4" y="339" width="1.2" height="14.2" fill="#0a0a0a"/><rect x="433.8" y="339.7" width="2.4" height="9.8" fill="#0a0a0a"/><rect x="438.4" y="340.5" width="1.2" height="12.7" fill="#0a0a0a"/><rect x="437.8" y="347.2" width="2.4" height="3" fill="#0a0a0a"/><rect x="441.4" y="345.7" width="1.2" height="6" fill="#9c9ca3"/><rect x="440.8" y="346.5" width="2.4" height="3" fill="#9c9ca3"/><rect x="444.4" y="343.5" width="1.2" height="8.2" fill="#9c9ca3"/><rect x="443.8" y="344.2" width="2.4" height="6.8" fill="#9c9ca3"/><rect x="448.4" y="342" width="1.2" height="8.2" fill="#9c9ca3"/><rect x="447.8" y="342.7" width="2.4" height="5.3" fill="#9c9ca3"/><rect x="451.4" y="336" width="1.2" height="13.5" fill="#0a0a0a"/><rect x="450.8" y="343.5" width="2.4" height="5.2" fill="#0a0a0a"/><rect x="455.4" y="333" width="1.2" height="16.5" fill="#9c9ca3"/><rect x="454.8" y="338.2" width="2.4" height="9.8" fill="#9c9ca3"/><rect x="458.4" y="335.2" width="1.2" height="30" fill="#0a0a0a"/><rect x="457.8" y="339" width="2.4" height="25.4" fill="#0a0a0a"/><rect x="462.4" y="354" width="1.2" height="30.7" fill="#0a0a0a"/><rect x="461.8" y="363.7" width="2.4" height="12.7" fill="#0a0a0a"/><rect x="465.4" y="358.4" width="1.2" height="23.3" fill="#9c9ca3"/><rect x="464.8" y="364.4" width="2.4" height="12.8" fill="#9c9ca3"/><rect x="469.4" y="331.5" width="1.2" height="35.2" fill="#9c9ca3"/><rect x="468.8" y="346.5" width="2.4" height="18.7" fill="#9c9ca3"/><rect x="472.4" y="330" width="1.2" height="18" fill="#9c9ca3"/><rect x="471.8" y="342.7" width="2.4" height="3.8" fill="#9c9ca3"/><rect x="476.4" y="339.7" width="1.2" height="11.3" fill="#0a0a0a"/><rect x="475.8" y="340.5" width="2.4" height="9.7" fill="#0a0a0a"/><rect x="479.4" y="342.7" width="1.2" height="15.7" fill="#0a0a0a"/><rect x="478.8" y="349.5" width="2.4" height="3.7" fill="#0a0a0a"/><rect x="483.4" y="349.5" width="1.2" height="6.7" fill="#0a0a0a"/><rect x="482.8" y="351.7" width="2.4" height="1.5" fill="#0a0a0a"/><rect x="486.4" y="345" width="1.2" height="12" fill="#0a0a0a"/><rect x="485.8" y="351" width="2.4" height="3" fill="#0a0a0a"/><rect x="489.4" y="338.2" width="1.2" height="21" fill="#9c9ca3"/><rect x="488.8" y="344.2" width="2.4" height="9" fill="#9c9ca3"/><rect x="493.4" y="337.5" width="1.2" height="27.7" fill="#9c9ca3"/><rect x="492.8" y="342" width="2.4" height="3" fill="#9c9ca3"/><rect x="496.4" y="326.2" width="1.2" height="21" fill="#9c9ca3"/><rect x="495.8" y="329.2" width="2.4" height="13.5" fill="#9c9ca3"/><rect x="500.4" y="327" width="1.2" height="12" fill="#0a0a0a"/><rect x="499.8" y="329.2" width="2.4" height="7.5" fill="#0a0a0a"/><rect x="503.4" y="325.5" width="1.2" height="14.2" fill="#9c9ca3"/><rect x="502.8" y="328.5" width="2.4" height="8.2" fill="#9c9ca3"/><rect x="507.4" y="324" width="1.2" height="6" fill="#9c9ca3"/><rect x="506.8" y="325.5" width="2.4" height="3.7" fill="#9c9ca3"/><rect x="510.4" y="322.5" width="1.2" height="8.2" fill="#0a0a0a"/><rect x="509.8" y="325.5" width="2.4" height="4.5" fill="#0a0a0a"/><rect x="514.4" y="324" width="1.2" height="9" fill="#9c9ca3"/><rect x="513.8" y="325.5" width="2.4" height="3.7" fill="#9c9ca3"/><rect x="517.4" y="323.2" width="1.2" height="14.3" fill="#0a0a0a"/><rect x="516.8" y="327" width="2.4" height="9.7" fill="#0a0a0a"/><rect x="521.4" y="332.2" width="1.2" height="9.8" fill="#0a0a0a"/><rect x="520.8" y="336" width="2.4" height="5.2" fill="#0a0a0a"/><rect x="524.4" y="339.7" width="1.2" height="7.5" fill="#9c9ca3"/><rect x="523.8" y="340.5" width="2.4" height="6" fill="#9c9ca3"/><rect x="528.4" y="339.7" width="1.2" height="6.8" fill="#0a0a0a"/><rect x="527.8" y="340.5" width="2.4" height="5.2" fill="#0a0a0a"/><rect x="531.4" y="335.2" width="1.2" height="36.8" fill="#9c9ca3"/><rect x="530.8" y="342" width="2.4" height="3" fill="#9c9ca3"/><rect x="534.4" y="342" width="1.2" height="10.5" fill="#0a0a0a"/><rect x="533.8" y="342.7" width="2.4" height="9" fill="#0a0a0a"/><rect x="538.4" y="346.5" width="1.2" height="12.7" fill="#0a0a0a"/><rect x="537.8" y="351" width="2.4" height="1.5" fill="#0a0a0a"/><rect x="541.4" y="348" width="1.2" height="7.5" fill="#0a0a0a"/><rect x="540.8" y="351.7" width="2.4" height="1.5" fill="#0a0a0a"/><rect x="545.4" y="348.7" width="1.2" height="14.3" fill="#0a0a0a"/><rect x="544.8" y="349.5" width="2.4" height="12.7" fill="#0a0a0a"/><rect x="548.4" y="359.2" width="1.2" height="7.5" fill="#0a0a0a"/><rect x="547.8" y="360.7" width="2.4" height="1.5" fill="#0a0a0a"/><rect x="552.4" y="357" width="1.2" height="6.7" fill="#0a0a0a"/><rect x="551.8" y="360.7" width="2.4" height="2.3" fill="#0a0a0a"/><rect x="555.4" y="360" width="1.2" height="10.4" fill="#0a0a0a"/><rect x="554.8" y="361" width="2.4" height="8.7" fill="#0a0a0a"/><rect x="559.4" y="366.7" width="1.2" height="18.7" fill="#0a0a0a"/><rect x="558.8" y="368.2" width="2.4" height="9.8" fill="#0a0a0a"/><rect x="562.4" y="358.4" width="1.2" height="21" fill="#9c9ca3"/><rect x="561.8" y="368.2" width="2.4" height="9.8" fill="#9c9ca3"/><rect x="566.4" y="363.7" width="1.2" height="6" fill="#9c9ca3"/><rect x="565.8" y="365.2" width="2.4" height="3.8" fill="#9c9ca3"/><rect x="569.4" y="365.2" width="1.2" height="9.8" fill="#0a0a0a"/><rect x="568.8" y="366" width="2.4" height="7.5" fill="#0a0a0a"/><rect x="573.4" y="370.5" width="1.2" height="9" fill="#9c9ca3"/><rect x="572.8" y="372" width="2.4" height="3" fill="#9c9ca3"/><rect x="576.4" y="370.5" width="1.2" height="11.9" fill="#0a0a0a"/><rect x="575.8" y="372.7" width="2.4" height="9" fill="#0a0a0a"/><rect x="579.4" y="369.7" width="1.2" height="29.3" fill="#0a0a0a"/><rect x="578.8" y="379.5" width="2.4" height="10.5" fill="#0a0a0a"/><rect x="583.4" y="385.4" width="1.2" height="16.6" fill="#0a0a0a"/><rect x="582.8" y="390" width="2.4" height="11.2" fill="#0a0a0a"/><rect x="586.4" y="398.2" width="1.2" height="6.8" fill="#0a0a0a"/><rect x="585.8" y="400.4" width="2.4" height="3" fill="#0a0a0a"/><rect x="590.4" y="398.2" width="1.2" height="9.8" fill="#0a0a0a"/><rect x="589.8" y="400.4" width="2.4" height="3" fill="#0a0a0a"/><rect x="593.4" y="396" width="1.2" height="18" fill="#0a0a0a"/><rect x="592.8" y="402" width="2.4" height="11.2" fill="#0a0a0a"/><rect x="597.4" y="402.7" width="1.2" height="11.3" fill="#9c9ca3"/><rect x="596.8" y="404.2" width="2.4" height="9" fill="#9c9ca3"/><rect x="600.4" y="395.2" width="1.2" height="11.2" fill="#9c9ca3"/><rect x="599.8" y="397.4" width="2.4" height="8.3" fill="#9c9ca3"/><rect x="604.4" y="390" width="1.2" height="9" fill="#9c9ca3"/><rect x="603.8" y="391.4" width="2.4" height="6" fill="#9c9ca3"/><rect x="607.4" y="370.5" width="1.2" height="23.9" fill="#9c9ca3"/><rect x="606.8" y="372.7" width="2.4" height="18.7" fill="#9c9ca3"/><rect x="611.4" y="372" width="1.2" height="13.4" fill="#0a0a0a"/><rect x="610.8" y="372.7" width="2.4" height="11.3" fill="#0a0a0a"/><rect x="614.4" y="372" width="1.2" height="18" fill="#0a0a0a"/><rect x="613.8" y="373.5" width="2.4" height="15.7" fill="#0a0a0a"/><rect x="617.4" y="384.7" width="1.2" height="14.3" fill="#0a0a0a"/><rect x="616.8" y="386.2" width="2.4" height="12" fill="#0a0a0a"/><rect x="621.4" y="388.4" width="1.2" height="10.6" fill="#9c9ca3"/><rect x="620.8" y="390" width="2.4" height="8.2" fill="#9c9ca3"/><rect x="624.4" y="393.7" width="1.2" height="8.3" fill="#0a0a0a"/><rect x="623.8" y="395.2" width="2.4" height="5.2" fill="#0a0a0a"/><rect x="628.4" y="397.4" width="1.2" height="9" fill="#0a0a0a"/><rect x="627.8" y="398.2" width="2.4" height="7.5" fill="#0a0a0a"/><rect x="631.4" y="363" width="1.2" height="43.4" fill="#9c9ca3"/><rect x="630.8" y="366" width="2.4" height="39.7" fill="#9c9ca3"/><rect x="635.4" y="333" width="1.2" height="36" fill="#9c9ca3"/><rect x="634.8" y="345" width="2.4" height="21" fill="#9c9ca3"/><rect x="638.4" y="328" width="1.2" height="22" fill="#9c9ca3"/><rect x="637.8" y="330" width="2.4" height="15" fill="#9c9ca3"/><rect x="642.4" y="300" width="1.2" height="32" fill="#9c9ca3"/><rect x="641.8" y="302" width="2.4" height="28" fill="#9c9ca3"/><rect x="645.4" y="279.7" width="1.2" height="28.3" fill="#9c9ca3"/><rect x="644.8" y="288" width="2.4" height="15" fill="#9c9ca3"/><rect x="649.4" y="279" width="1.2" height="26" fill="#0a0a0a"/><rect x="648.8" y="288" width="2.4" height="3" fill="#0a0a0a"/><rect x="652.4" y="289.5" width="1.2" height="13.5" fill="#0a0a0a"/><rect x="651.8" y="290.2" width="2.4" height="9" fill="#0a0a0a"/><rect x="656.4" y="291.7" width="1.2" height="26.3" fill="#0a0a0a"/><rect x="655.8" y="299.2" width="2.4" height="18" fill="#0a0a0a"/><rect x="659.4" y="276" width="1.2" height="45.7" fill="#9c9ca3"/><rect x="658.8" y="283.5" width="2.4" height="32.9" fill="#9c9ca3"/><rect x="662.4" y="240" width="1.2" height="46.5" fill="#9c9ca3"/><rect x="661.8" y="241" width="2.4" height="42.5" fill="#9c9ca3"/><rect x="666.4" y="226" width="1.2" height="41" fill="#0a0a0a"/><rect x="665.8" y="242" width="2.4" height="19" fill="#0a0a0a"/><rect x="669.4" y="240" width="1.2" height="28" fill="#9c9ca3"/><rect x="668.8" y="245" width="2.4" height="17" fill="#9c9ca3"/><rect x="673.4" y="217" width="1.2" height="45" fill="#9c9ca3"/><rect x="672.8" y="220" width="2.4" height="39.5" fill="#9c9ca3"/><rect x="676.4" y="180" width="1.2" height="49" fill="#9c9ca3"/><rect x="675.8" y="188.5" width="2.4" height="31.5" fill="#9c9ca3"/><rect x="680.4" y="184.7" width="1.2" height="42.7" fill="#0a0a0a"/><rect x="679.8" y="188.5" width="2.4" height="14.9" fill="#0a0a0a"/><rect x="683.4" y="196" width="1.2" height="24" fill="#0a0a0a"/><rect x="682.8" y="203.4" width="2.4" height="8.3" fill="#0a0a0a"/><rect x="687.4" y="208" width="1.2" height="30.7" fill="#0a0a0a"/><rect x="686.8" y="211.7" width="2.4" height="16.5" fill="#0a0a0a"/><rect x="690.4" y="178.7" width="1.2" height="50.8" fill="#9c9ca3"/><rect x="689.8" y="179" width="2.4" height="49.2" fill="#9c9ca3"/><rect x="694.4" y="177.2" width="1.2" height="24" fill="#0a0a0a"/><rect x="693.8" y="179.5" width="2.4" height="13.5" fill="#0a0a0a"/><rect x="697.4" y="176.5" width="1.2" height="28.5" fill="#9c9ca3"/><rect x="696.8" y="192" width="2.4" height="2" fill="#9c9ca3"/><rect x="701.4" y="185.5" width="1.2" height="15.7" fill="#0a0a0a"/><rect x="700.8" y="192.2" width="2.4" height="2.3" fill="#0a0a0a"/><rect x="704.4" y="179.5" width="1.2" height="17.2" fill="#9c9ca3"/><rect x="703.8" y="189.2" width="2.4" height="4.5" fill="#9c9ca3"/><rect x="707.4" y="180.4" width="1.2" height="8.2" fill="#9c9ca3"/><rect x="706.8" y="184.5" width="2.4" height="1.5" fill="#9c9ca3"/><rect x="711.4" y="159.2" width="1.2" height="35.3" fill="#9c9ca3"/><rect x="710.8" y="179.5" width="2.4" height="10.5" fill="#9c9ca3"/><rect x="714.4" y="175.7" width="1.2" height="20.3" fill="#0a0a0a"/><rect x="713.8" y="179.5" width="2.4" height="6" fill="#0a0a0a"/><rect x="718.4" y="183" width="1.2" height="25.7" fill="#0a0a0a"/><rect x="717.8" y="184.7" width="2.4" height="22.5" fill="#0a0a0a"/><rect x="721.4" y="194.5" width="1.2" height="17.2" fill="#0a0a0a"/><rect x="720.8" y="206.4" width="2.4" height="3" fill="#0a0a0a"/><rect x="725.4" y="208" width="1.2" height="24" fill="#0a0a0a"/><rect x="724.8" y="209.3" width="2.4" height="21.5" fill="#0a0a0a"/><rect x="728.4" y="222.6" width="1.2" height="68.9" fill="#0a0a0a"/><rect x="727.8" y="229.5" width="2.4" height="1.7" fill="#0a0a0a"/><rect x="732.4" y="218.5" width="1.2" height="46" fill="#0a0a0a"/><rect x="731.8" y="229.7" width="2.4" height="1.3" fill="#0a0a0a"/><rect x="735.4" y="206.6" width="1.2" height="33.6" fill="#9c9ca3"/><rect x="734.8" y="218.6" width="2.4" height="11.8" fill="#9c9ca3"/></g><g clip-path="url(#rp)"><polyline points="5.9,39.9 9.4,46.1 12.8,46.7 16.3,47.3 19.7,55 23.2,54.2 26.7,55.4 30.1,57.3 33.6,55.8 37,60.4 40.5,52.1 44,54.8 47.4,52.6 50.9,54.5 54.4,51.7 57.8,48 61.3,42.4 64.7,40.1 68.2,40.1 71.7,49.8 75.1,52.9 78.6,56.6 82,59.1 85.5,57.9 89,59.7 92.4,62.2 95.9,65 99.3,64.1 102.8,67.8 106.3,70.7 109.7,73.4 113.2,73.8 116.7,73.6 120.1,71.5 123.6,59.7 127,57.5 130.5,63.7 134,61.2 137.4,65.3 140.9,66.2 144.3,66.8 147.8,66.3 151.3,66.6 154.7,62.9 158.2,61.2 161.6,65 165.1,64.5 168.6,66 172,67.2 175.5,68.4 178.9,68.4 182.4,68.2 185.9,67.8 189.3,67.8 192.8,66.6 196.3,61.2 199.7,64.5 203.2,64.5 206.6,66.3 210.1,68.2 213.6,63.5 217,58.8 220.5,57.3 223.9,53.3 227.4,52.3 230.9,55.4 234.3,57 237.8,57.5 241.2,66 244.7,61 248.2,61.2 251.6,62.6 255.1,60.1 258.6,63.7 262,62.6 265.5,57.9 268.9,54.2 272.4,51.7 275.9,51.7 279.3,58.8 282.8,59.5 286.2,59.1 289.7,57 293.2,56 296.6,46.1 300.1,38.4 303.5,41.8 307,49.6 310.5,43.4 313.9,48 317.4,45.1 320.9,43 324.3,34.9 327.8,33.4 331.2,30.2 334.7,29.3 338.2,37.4 341.6,38.4 345.1,54.2 348.5,50.4 352,55.8 355.5,59.5 358.9,61.2 362.4,58.3 365.8,57.5 369.3,52.6 372.8,56.6 376.2,57.9 379.7,60.4 383.1,56 386.6,53.3 390.1,52.6 393.5,53.8 397,53.5 400.5,55 403.9,54.5 407.4,54.4 410.8,54.8 414.3,53.5 417.8,63.5 421.2,67.8 424.7,72.2 428.1,67.2 431.6,69.9 435.1,71.5 438.5,71.5 442,71.5 445.4,70.9 448.9,69.1 452.4,70.3 455.8,68.4 459.3,74 462.8,76.5 466.2,72.8 469.7,67.4 473.1,66.6 476.6,68.2 480.1,68.7 483.5,69.1 487,69.1 490.4,66 493.9,64.7 497.4,60.7 500.8,63.2 504.3,60.6 507.7,60.1 511.2,61.2 514.7,61 518.1,65 521.6,66.6 525,67.2 528.5,68.4 532,67.8 535.4,71.5 538.9,72.2 542.4,72.8 545.8,76.9 549.3,77.1 552.7,78.1 556.2,80.8 559.7,83.5 563.1,76.5 566.6,75.3 570,78.4 573.5,77.7 577,82.1 580.4,85.8 583.9,88.5 587.3,88.9 590.8,89.5 594.3,91.4 597.7,84.3 601.2,77.7 604.7,74.6 608.1,65 611.6,69.7 615,73.4 618.5,75.3 622,74 625.4,75.9 628.9,77.7 632.3,59.7 635.8,51.7 639.3,48 642.7,43.6 646.2,42.4 649.6,45.5 653.1,49.8 656.6,54.2 660,46.7 663.5,42.4 667,48.6 670.4,48 673.9,43 677.3,40.5 680.8,43.6 684.3,46.7 687.7,51.7 691.2,46.1 694.6,49.2 698.1,49.2 701.6,49.8 705,49.2 708.5,48.6 711.9,48 715.4,49.8 718.9,56.6 722.3,57.9 725.8,63.2 729.2,63.5 732.7,62.9 736.2,60.4" fill="none" stroke="#4a3d2a" stroke-width="1.2" stroke-linejoin="round"/></g><g clip-path="url(#mp)"><line x1="334.1" y1="251.7" x2="661.4" y2="383.2" stroke="#3a3024" stroke-width="1.2" stroke-dasharray="1.6 1.8"/><path d="M9.7,491.9 C14.3,486.5 28.3,470.2 37.5,459.5 C46.7,448.8 58.9,434.4 64.8,427.5 C70.6,420.6 70.5,420.2 72.6,418.2 C74.7,416.1 76.3,415.8 77.5,415.2 C78.7,414.6 79.2,414.8 80,414.9 C80.8,415 81.5,414.8 82.4,415.7 C83.3,416.6 84.4,418.6 85.4,420.6 C86.4,422.6 86.2,423.1 88.3,427.5 C90.4,431.9 95.1,440.7 98.1,447.1 C101.1,453.5 103.9,459.9 106.5,466 C109.1,472.1 111.1,477.8 113.5,484 C115.9,490.2 118.6,496.6 121,503 C123.4,509.4 126.6,519.4 127.7,522.7" fill="none" stroke="#4a3b29" stroke-width="1.2" stroke-linejoin="round" stroke-linecap="round"/><polyline points="122.2,522.7 128,523.2 128.5,517.5" fill="none" stroke="#4a3b29" stroke-width="1.2" stroke-linejoin="round" stroke-linecap="round"/><path d="M270.9,483.2 C275.1,476 287.8,453.9 296,440 C304.2,426.1 310.9,416.4 320.4,400 C329.9,383.6 344.8,356 352.9,341.5 C360.9,327 365.6,319.9 368.7,313 C371.8,306.1 370.7,305.1 371.7,300 C372.7,294.9 374,286.8 374.9,282.6 C375.8,278.4 376.3,276.8 377.2,275 C378.1,273.2 379.2,272.2 380.3,272 C381.4,271.8 382.3,272 383.9,273.5 C385.5,275 387.9,278.2 389.9,281 C391.9,283.8 393.4,286.5 395.9,290 C398.4,293.5 400.9,296.8 404.9,302 C408.9,307.2 413.9,313.7 419.9,321.4 C425.9,329.1 433.9,339.8 441,348.4 C448.1,357 456.1,366.4 462.3,373.2 C468.5,380 470.5,382.5 478.2,389.1 C485.9,395.7 503.3,409 508.3,413" fill="none" stroke="#4a3b29" stroke-width="1.2" stroke-linejoin="round" stroke-linecap="round"/><polyline points="502,412.3 508.3,413 508.3,406.8" fill="none" stroke="#4a3b29" stroke-width="1.2" stroke-linejoin="round" stroke-linecap="round"/><path d="M390.1,265 C391.5,264.9 395.1,264.1 398.4,264.2 C401.7,264.3 406.5,264.8 410.1,265.4 C413.8,266 417.8,267 420.3,267.7 C422.8,268.4 424.2,269 425,269.3" fill="none" stroke="#4a3b29" stroke-width="1.2" stroke-linejoin="round" stroke-linecap="round"/><polyline points="424.6,263.8 425,269.3 419.1,270.5" fill="none" stroke="#4a3b29" stroke-width="1.2" stroke-linejoin="round" stroke-linecap="round"/><ellipse cx="360.4" cy="386.2" rx="16.5" ry="7.5" fill="none" stroke="#4a3b29" stroke-width="1.2"/><polyline points="360.4,378 376.9,378.7" fill="none" stroke="#4a3b29" stroke-width="1.2" stroke-linejoin="round" stroke-linecap="round"/><polyline points="373.2,375.7 376.9,378.7 372.4,381.7" fill="none" stroke="#4a3b29" stroke-width="1.2" stroke-linejoin="round" stroke-linecap="round"/><path d="M372,390.7 C373.2,390.6 376.6,390.4 379,390 C381.4,389.6 385.4,388.7 386.7,388.4" fill="none" stroke="#4a3b29" stroke-width="1.2" stroke-linejoin="round" stroke-linecap="round"/><polyline points="382.9,385.4 386.7,388.4 384.4,393" fill="none" stroke="#4a3b29" stroke-width="1.2" stroke-linejoin="round" stroke-linecap="round"/><ellipse cx="464.8" cy="382" rx="17.6" ry="7.1" fill="none" stroke="#4a3b29" stroke-width="1.2"/><polyline points="457.7,384.7 474,383 490.7,380.9" fill="none" stroke="#4a3b29" stroke-width="1.2" stroke-linejoin="round" stroke-linecap="round"/><polyline points="485.4,377.9 490.7,380.9 483.9,387.7" fill="none" stroke="#4a3b29" stroke-width="1.2" stroke-linejoin="round" stroke-linecap="round"/><path d="M495.9,321.7 C497.8,321 503,318.6 507,317.5 C511,316.4 516.4,315.3 519.9,315 C523.4,314.7 525.4,315.1 528,315.5 C530.6,315.9 534.3,316.9 535.6,317.2" fill="none" stroke="#4a3b29" stroke-width="1.2" stroke-linejoin="round" stroke-linecap="round"/><polyline points="533.4,312.7 535.6,317.2 531.1,320.2" fill="none" stroke="#4a3b29" stroke-width="1.2" stroke-linejoin="round" stroke-linecap="round"/><polyline points="554.2,381.7 577.5,381" fill="none" stroke="#4a3b29" stroke-width="1.2" stroke-linejoin="round" stroke-linecap="round"/><polyline points="573,376.5 577.5,381 573.7,385.4" fill="none" stroke="#4a3b29" stroke-width="1.2" stroke-linejoin="round" stroke-linecap="round"/><ellipse cx="588.7" cy="356.2" rx="14.2" ry="6" fill="none" stroke="#4a3b29" stroke-width="1.2"/><polyline points="583.5,351 600,352.5 628.4,354" fill="none" stroke="#4a3b29" stroke-width="1.5" stroke-linejoin="round" stroke-linecap="round"/><polyline points="583.5,353.5 600,354.5 628.4,354" fill="none" stroke="#4a3b29" stroke-width="1.0" stroke-linejoin="round" stroke-linecap="round"/><polyline points="593.2,347.2 599.2,352.5 594,356" fill="none" stroke="#4a3b29" stroke-width="1.2" stroke-linejoin="round" stroke-linecap="round"/><path d="M592.5,370.5 C593.8,370.1 597,368.6 600,368 C603,367.4 606.4,366.8 610.4,366.7 C614.4,366.6 620.4,366.8 623.9,367.5 C627.4,368.2 630.1,370.6 631.4,371.2" fill="none" stroke="#4a3b29" stroke-width="1.2" stroke-linejoin="round" stroke-linecap="round"/><polyline points="627,366 631.4,371.2 626,373" fill="none" stroke="#4a3b29" stroke-width="1.2" stroke-linejoin="round" stroke-linecap="round"/><path d="M616.4,352.5 C617.6,351 620.4,345.5 623.9,343.5 C627.4,341.5 632.6,340.8 637.4,340.5 C642.1,340.2 648.6,341 652.4,342 C656.1,343 658.6,345.8 659.9,346.5" fill="none" stroke="#4a3b29" stroke-width="1.2" stroke-linejoin="round" stroke-linecap="round"/><polyline points="659.1,340.5 659.9,346.5 654.6,347.2" fill="none" stroke="#4a3b29" stroke-width="1.2" stroke-linejoin="round" stroke-linecap="round"/><path d="M606.7,403.5 C608.7,398 615.2,382.8 618.9,370.5 C622.6,358.2 625.8,342.5 628.8,330 C631.8,317.5 634,306.8 636.6,295.4 C639.2,284 641.8,270.3 644.4,261.7 C647,253.1 648.6,249.2 652.1,243.6 C655.6,238 660.8,232.8 665.1,228 C669.4,223.2 673.7,219.8 678,215.1 C682.3,210.4 687.9,205.8 691,199.6 C694.1,193.4 695.1,183.9 696.5,178 C697.9,172.1 698.5,167.6 699.5,164 C700.5,160.4 701.5,157.6 702.6,156.5 C703.7,155.4 704.5,156.1 706,157.2 C707.5,158.3 708.2,158 711.7,163.3 C715.2,168.6 721.6,180.1 727.2,189.2 C732.8,198.3 740.6,208.6 745.4,217.7 C750.1,226.8 753.1,235.8 755.7,243.6 C758.3,251.4 759.2,257.8 760.9,264.3 C762.6,270.8 764.4,278.7 766.1,282.4 C767.8,286.1 769.6,286.1 771.3,286.3 C772.9,286.5 774.3,285 776,283.5 C777.7,282 779.9,278.8 781.6,277.2 C783.3,275.6 784,273.2 786.3,274.2 C788.6,275.1 792.3,279.9 795.4,282.9 C798.5,285.9 801.5,289.8 804.6,292 C807.7,294.2 810.7,296.1 813.7,296.1 C816.8,296.1 818.7,295.4 822.9,292 C827.1,288.6 833.9,280.1 838.9,276 C843.9,271.9 849.2,268.6 852.6,267.6 C856,266.7 856.8,267.4 859.5,270.3 C862.2,273.2 865.6,281.3 868.6,285.2 C871.6,289.1 875,292.7 877.7,293.6 C880.4,294.6 881.9,293.8 884.6,290.9 C887.3,288 890.8,280.2 893.8,276 C896.8,271.8 899.5,268.2 902.9,265.7 C906.3,263.2 910.5,261.6 914.3,261.2 C918.1,260.8 921.6,261.3 925.8,263.4 C930,265.5 934.5,270.1 939.5,273.7 C944.5,277.3 950.2,282.4 955.5,285.2 C960.8,287.9 966.5,290 971.5,290.2 C976.5,290.4 979.9,289.8 985.2,286.3 C990.5,282.8 997.4,275.5 1003.5,269.2 C1009.6,262.9 1015.7,255.5 1021.8,248.6 C1027.9,241.7 1035.1,234.1 1040,228 C1044.9,221.9 1049.2,214.7 1051,212" fill="none" stroke="#4a3b29" stroke-width="1.2" stroke-linejoin="round" stroke-linecap="round"/><polyline points="1045,213.2 1051,212 1050.4,217.7" fill="none" stroke="#4a3b29" stroke-width="1.2" stroke-linejoin="round" stroke-linecap="round"/><ellipse cx="737.4" cy="300.5" rx="48.4" ry="17.3" fill="none" stroke="#4a3b29" stroke-width="1.2"/><polyline points="710.3,281 733,281" fill="none" stroke="#4a3b29" stroke-width="1.2" stroke-linejoin="round" stroke-linecap="round"/><polyline points="729,278 733,281 729,284.5" fill="none" stroke="#4a3b29" stroke-width="1.2" stroke-linejoin="round" stroke-linecap="round"/><polyline points="649.8,260.8 700,262.8 782.8,264.1" fill="none" stroke="#5a4e3c" stroke-width="1.6" stroke-linejoin="round" stroke-linecap="round"/><polyline points="672.7,259.2 728.8,257.5" fill="none" stroke="#4a3b29" stroke-width="1.2" stroke-linejoin="round" stroke-linecap="round"/><polyline points="726.1,253.7 728.8,257.5 726.1,261.3" fill="none" stroke="#4a3b29" stroke-width="1.2" stroke-linejoin="round" stroke-linecap="round"/><ellipse cx="597.5" cy="408" rx="13.3" ry="6.4" fill="none" stroke="#4a3b29" stroke-width="1.2"/><polyline points="600.9,408.3 652.8,406.7" fill="none" stroke="#243a36" stroke-width="1.2" stroke-linejoin="round" stroke-linecap="round"/><polyline points="648.6,402.7 652.8,406.7 650.9,408.9" fill="none" stroke="#4a3b29" stroke-width="1.2" stroke-linejoin="round" stroke-linecap="round"/><ellipse cx="646.8" cy="416.2" rx="22.4" ry="8" fill="none" stroke="#4a3b29" stroke-width="1.2" transform="rotate(-8 646.8 416.2)"/><polyline points="664.6,403.7 659.7,406.7 661.3,411.6" fill="none" stroke="#4a3b29" stroke-width="1.2" stroke-linejoin="round" stroke-linecap="round"/><circle cx="894.9" cy="257.7" r="0.6" fill="#3b3125"/><rect x="318.5" y="408.5" width="635" height="17" fill="rgba(76,175,80,0.17)" stroke="rgba(76,175,80,0.45)" stroke-width="1"/><rect x="648.5" y="287.5" width="378" height="29" fill="rgba(76,175,80,0.17)" stroke="rgba(76,175,80,0.45)" stroke-width="1"/></g><line x1="1208.7" y1="157.4" x2="1235.9" y2="411.8" stroke="#fcefd6" stroke-width="1.3" stroke-dasharray="8 4"/><line x1="1209.4" y1="157.3" x2="1235" y2="157.3" stroke="#7a6c58" stroke-width="1" stroke-dasharray="1 2"/><line x1="1209.4" y1="413.3" x2="1235" y2="413.3" stroke="#7a6c58" stroke-width="1" stroke-dasharray="1 2"/><g font-family="'Liberation Sans', Arial, sans-serif"><text x="1142.7" y="160.7" font-size="10" fill="#7a6a52" font-weight="normal" text-anchor="start" textLength="62.4" lengthAdjust="spacingAndGlyphs">1(0.00006275)</text><text x="1141.9" y="416" font-size="10" fill="#6e5e48" font-weight="normal" text-anchor="start" textLength="63.2" lengthAdjust="spacingAndGlyphs">0(0.00003094)</text><text x="474.1" y="450.6" font-size="11.5" fill="#2e2a24" font-weight="normal" text-anchor="start" textLength="332" lengthAdjust="spacingAndGlyphs" stroke="#2e2a24" stroke-width="0.15">Next area of support if the range around 3800-4000 sats is lost.</text><text x="5.2" y="15.2" font-size="10.8" fill="#cfd2da" font-weight="normal" text-anchor="start" textLength="324.5" lengthAdjust="spacingAndGlyphs" stroke="#cfd2da" stroke-width="0.45">CryptoMichNL published on TradingView.com, Sep 09, 2021 16:58 UTC+2</text><text x="12.4" y="37.3" font-size="10" fill="#85796b" font-weight="normal" text-anchor="start" textLength="62.7" lengthAdjust="spacingAndGlyphs">RSI (14, close)</text><text x="82.6" y="37.3" font-size="10" fill="#4a4034" font-weight="bold" text-anchor="start" textLength="23.1" lengthAdjust="spacingAndGlyphs">55.92</text><text x="12.3" y="115.6" font-size="10.5" fill="#7b756b" font-weight="normal" text-anchor="start" textLength="141.7" lengthAdjust="spacingAndGlyphs">Cardano / Bitcoin, 1D, BINANCE</text><text x="161.2" y="115.6" font-size="10.5" fill="#7b756b" font-weight="normal" text-anchor="start" textLength="5.8" lengthAdjust="spacingAndGlyphs">O</text><text x="167.5" y="115.6" font-size="10.5" fill="#a9a293" font-weight="normal" text-anchor="start" textLength="50.9" lengthAdjust="spacingAndGlyphs">0.00005365</text><text x="225.2" y="115.6" font-size="10.5" fill="#7b756b" font-weight="normal" text-anchor="start" textLength="5.8" lengthAdjust="spacingAndGlyphs">H</text><text x="231.7" y="115.6" font-size="10.5" fill="#a9a293" font-weight="normal" text-anchor="start" textLength="50.5" lengthAdjust="spacingAndGlyphs">0.00005662</text><text x="289.2" y="115.6" font-size="10.5" fill="#7b756b" font-weight="normal" text-anchor="start" textLength="4.6" lengthAdjust="spacingAndGlyphs">L</text><text x="294.4" y="115.6" font-size="10.5" fill="#a9a293" font-weight="normal" text-anchor="start" textLength="50" lengthAdjust="spacingAndGlyphs">0.00005243</text><text x="351.4" y="115.6" font-size="10.5" fill="#7b756b" font-weight="normal" text-anchor="start" textLength="5.6" lengthAdjust="spacingAndGlyphs">C</text><text x="357.4" y="115.6" font-size="10.5" fill="#a9a293" font-weight="normal" text-anchor="start" textLength="49.9" lengthAdjust="spacingAndGlyphs">0.00005512</text><text x="414.7" y="115.6" font-size="10.5" fill="#a9a293" font-weight="normal" text-anchor="start" textLength="97" lengthAdjust="spacingAndGlyphs">+0.00000149 (+2.78%)</text><text x="12.3" y="129.5" font-size="10.5" fill="#7b756b" font-weight="normal" text-anchor="start" textLength="13" lengthAdjust="spacingAndGlyphs">Vol</text><text x="31.9" y="129.5" font-size="10.5" fill="#3d3a35" font-weight="bold" text-anchor="start" textLength="36.8" lengthAdjust="spacingAndGlyphs">46.668M</text><rect x="1386" y="21.5" width="1" height="684.8" fill="#a08688"/><rect x="5.5" y="98.6" width="1519" height="1.5" fill="#a89078"/><rect x="5.5" y="665" width="1519" height="1" fill="#9c8470"/><defs><clipPath id="pa"><rect x="1386.5" y="99.3" width="138" height="565.3"/></clipPath></defs><g clip-path="url(#pa)"><text x="1398.3" y="186.4" font-size="19" fill="#5c5b63" font-weight="normal" text-anchor="start" textLength="101.7" lengthAdjust="spacingAndGlyphs" stroke="#5c5b63" stroke-width="0.2">0.00006000</text><text x="1398.3" y="266.6" font-size="19" fill="#5c5b63" font-weight="normal" text-anchor="start" textLength="101.7" lengthAdjust="spacingAndGlyphs" stroke="#5c5b63" stroke-width="0.2">0.00005000</text><text x="1398.3" y="346.9" font-size="19" fill="#5c5b63" font-weight="normal" text-anchor="start" textLength="101.7" lengthAdjust="spacingAndGlyphs" stroke="#5c5b63" stroke-width="0.2">0.00004000</text><text x="1398.3" y="427.1" font-size="19" fill="#5c5b63" font-weight="normal" text-anchor="start" textLength="101.7" lengthAdjust="spacingAndGlyphs" stroke="#5c5b63" stroke-width="0.2">0.00003000</text><text x="1398.3" y="507.3" font-size="19" fill="#5c5b63" font-weight="normal" text-anchor="start" textLength="101.7" lengthAdjust="spacingAndGlyphs" stroke="#5c5b63" stroke-width="0.2">0.00002000</text><text x="1398.3" y="587.6" font-size="19" fill="#5c5b63" font-weight="normal" text-anchor="start" textLength="101.7" lengthAdjust="spacingAndGlyphs" stroke="#5c5b63" stroke-width="0.2">0.00001000</text><text x="1398.3" y="667.8" font-size="19" fill="#5c5b63" font-weight="normal" text-anchor="start" textLength="101.7" lengthAdjust="spacingAndGlyphs" stroke="#5c5b63" stroke-width="0.2">0.00000000</text></g><rect x="1435.5" y="105.5" width="40" height="24" rx="2" fill="none" stroke="#e8d3b8" stroke-width="1"/><text x="1438.8" y="124.6" font-size="20" fill="#4d4b55" font-weight="normal" text-anchor="start" textLength="32.7" lengthAdjust="spacingAndGlyphs" stroke="#4d4b55" stroke-width="0.3">BTC</text><path d="M1386,204.5 H1507.7 Q1509.7,204.5 1509.7,206.5 V253.6 Q1509.7,255.6 1507.7,255.6 H1386 Z" fill="#434651"/><text x="1398.3" y="225.9" font-size="19" fill="#ffffff" font-weight="normal" text-anchor="start" textLength="101.7" lengthAdjust="spacingAndGlyphs" stroke="#ffffff" stroke-width="0.35">0.00005512</text><text x="1398.3" y="249.2" font-size="19" fill="#c9cbd1" font-weight="normal" text-anchor="start" textLength="77" lengthAdjust="spacingAndGlyphs">09:02:02</text><path d="M1386,279.8 H1507.7 Q1509.7,279.8 1509.7,281.8 V306.8 Q1509.7,308.8 1507.7,308.8 H1386 Z" fill="#bc1a1f"/><text x="1398.3" y="301.2" font-size="19" fill="#ffffff" font-weight="normal" text-anchor="start" textLength="101.7" lengthAdjust="spacingAndGlyphs" stroke="#ffffff" stroke-width="0.35">0.00004571</text><path d="M1386,312 H1507.7 Q1509.7,312 1509.7,314 V366 Q1509.7,368 1507.7,368 H1386 Z" fill="#bc1a1f"/><text x="1398.3" y="333.6" font-size="19" fill="#ffffff" font-weight="normal" text-anchor="start" textLength="101.7" lengthAdjust="spacingAndGlyphs" stroke="#ffffff" stroke-width="0.35">0.00004168</text><text x="1398.3" y="361.1" font-size="19" fill="#ffffff" font-weight="normal" text-anchor="start" textLength="101.7" lengthAdjust="spacingAndGlyphs" stroke="#ffffff" stroke-width="0.35">0.00003835</text><path d="M1386,369.3 H1507.7 Q1509.7,369.3 1509.7,371.3 V396 Q1509.7,398 1507.7,398 H1386 Z" fill="#5db763"/><text x="1398.3" y="390.1" font-size="19" fill="#0b0b0b" font-weight="normal" text-anchor="start" textLength="101.7" lengthAdjust="spacingAndGlyphs" stroke="#0b0b0b" stroke-width="0.35">0.00003523</text><path d="M1386,413.4 H1507.7 Q1509.7,413.4 1509.7,415.4 V439 Q1509.7,441 1507.7,441 H1386 Z" fill="#5db763"/><text x="1398.3" y="433" font-size="19" fill="#0b0b0b" font-weight="normal" text-anchor="start" textLength="101.7" lengthAdjust="spacingAndGlyphs" stroke="#0b0b0b" stroke-width="0.35">0.00002913</text><path d="M1386,486.9 H1507.7 Q1509.7,486.9 1509.7,488.9 V513 Q1509.7,515 1507.7,515 H1386 Z" fill="#5db763"/><text x="1398.3" y="507.6" font-size="19" fill="#0b0b0b" font-weight="normal" text-anchor="start" textLength="101.7" lengthAdjust="spacingAndGlyphs" stroke="#0b0b0b" stroke-width="0.35">0.00002001</text><text x="55.5" y="690.7" font-size="19" fill="#5c5b63" font-weight="normal" text-anchor="start" textLength="32" lengthAdjust="spacingAndGlyphs" stroke="#5c5b63" stroke-width="0.2">Mar</text><text x="265.2" y="690.7" font-size="19" fill="#5c5b63" font-weight="normal" text-anchor="start" textLength="34" lengthAdjust="spacingAndGlyphs" stroke="#5c5b63" stroke-width="0.2">May</text><text x="480.6" y="690.7" font-size="19" fill="#5c5b63" font-weight="normal" text-anchor="start" textLength="25.5" lengthAdjust="spacingAndGlyphs" stroke="#5c5b63" stroke-width="0.2">Jul</text><text x="692.5" y="690.7" font-size="19" fill="#5c5b63" font-weight="normal" text-anchor="start" textLength="30.5" lengthAdjust="spacingAndGlyphs" stroke="#5c5b63" stroke-width="0.2">Sep</text><text x="902.5" y="690.7" font-size="19" fill="#5c5b63" font-weight="normal" text-anchor="start" textLength="33" lengthAdjust="spacingAndGlyphs" stroke="#5c5b63" stroke-width="0.2">Nov</text><text x="1106.8" y="690.7" font-size="19" fill="#4f4e56" font-weight="bold" text-anchor="start" textLength="45" lengthAdjust="spacingAndGlyphs">2022</text><text x="1317.1" y="690.7" font-size="19" fill="#5c5b63" font-weight="normal" text-anchor="start" textLength="32" lengthAdjust="spacingAndGlyphs" stroke="#5c5b63" stroke-width="0.2">Mar</text><path d="M5.2,717.1 H12.2 V724.6 H8.6 V720.2 H5.2 Z" fill="#d6d7dc"/><circle cx="14.9" cy="718.4" r="1.3" fill="#d6d7dc"/><path d="M14.2,724.6 L18.2,717.1 H21.4 L17.4,724.6 Z" fill="#d6d7dc"/><text x="24.5" y="724.6" font-size="10.8" fill="#d2d3d8" font-weight="normal" text-anchor="start" textLength="59.1" lengthAdjust="spacingAndGlyphs" stroke="#d2d3d8" stroke-width="0.45">TradingView</text></g></svg></body></html>
